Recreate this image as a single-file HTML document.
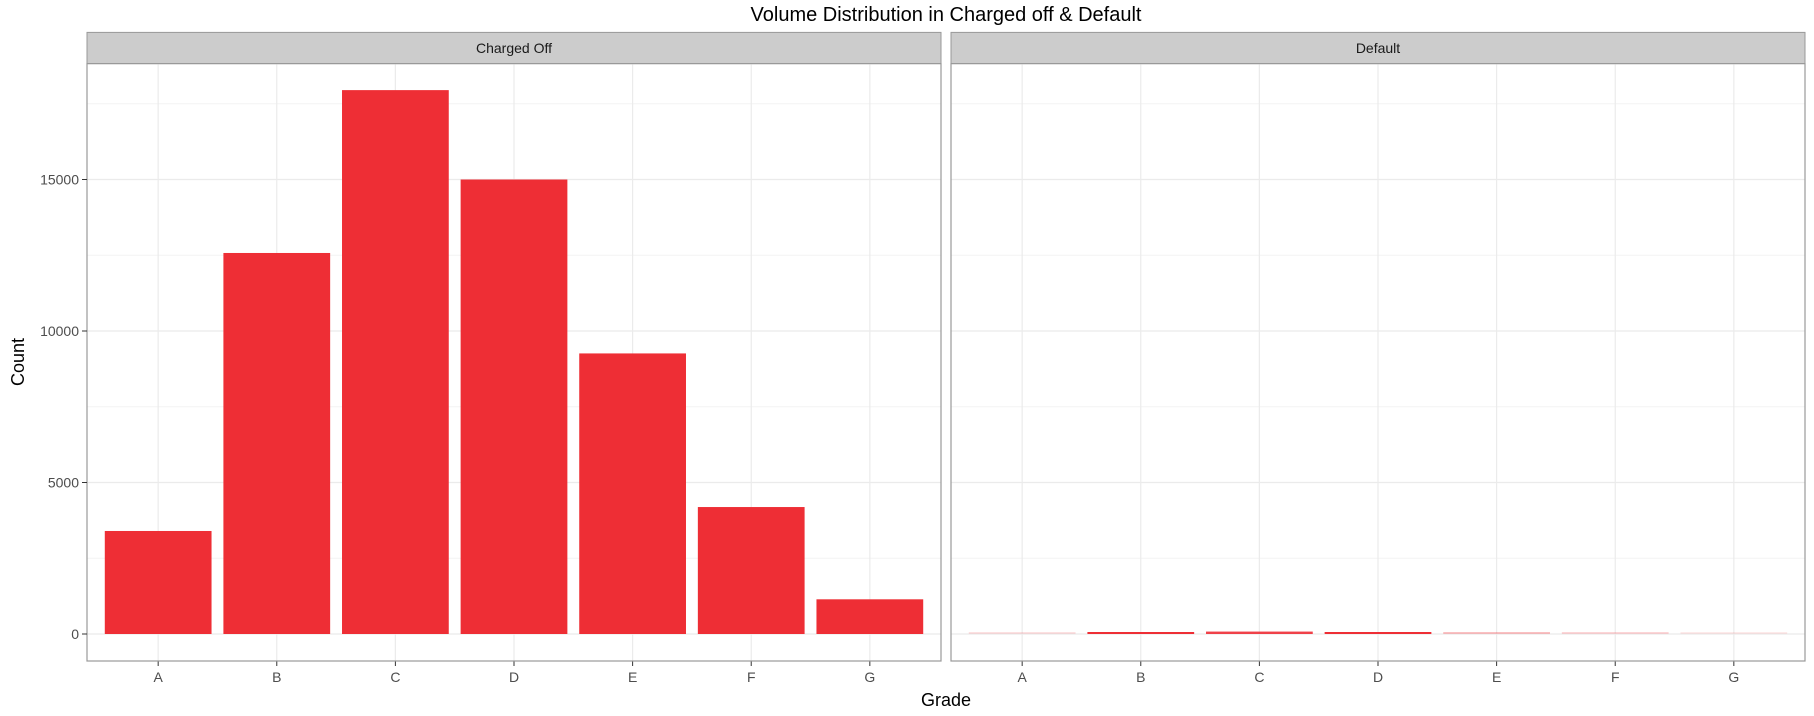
<!DOCTYPE html>
<html><head><meta charset="utf-8"><style>
html,body{margin:0;padding:0;background:#fff;}
svg{display:block;font-family:"Liberation Sans",sans-serif;}
</style></head><body>
<svg id="chart" width="1814" height="716" viewBox="0 0 1814 716" xmlns="http://www.w3.org/2000/svg">
<text x="946" y="21" font-size="20" text-anchor="middle" fill="#000">Volume Distribution in Charged off &amp; Default</text>
<text transform="translate(24,362) rotate(-90)" font-size="18" text-anchor="middle">Count</text>
<text x="946" y="706" font-size="18" text-anchor="middle">Grade</text>
<g id="plot"></g>
</svg>
<script>
const categories = ['A','B','C','D','E','F','G'];
const panels = ['Charged Off','Default'];
const chargedOff = [3400,12575,17950,15000,9260,4190,1145];
const defaultVals = [5,40,80,50,20,10,5];
const defaultAlpha = [0.15,1,0.9,1,0.3,0.2,0.1];
const yTicks = [0,5000,10000,15000];
const yMinorTicks = [2500,7500,12500,17500];

const NS='http://www.w3.org/2000/svg';
const g=document.getElementById('plot');
const panelX=[87,951], panelW=854, panelTop=63.6, panelBottom=661, stripTop=32.4;
const zeroY=634, pxPer=151.5/5000;
function y(v){return zeroY-v*pxPer;}
const step=panelW/(categories.length-1+1.2);
function x(p,i){return panelX[p]+step*(0.6+i);}
function el(t,a){const e=document.createElementNS(NS,t);for(const k in a)e.setAttribute(k,a[k]);g.appendChild(e);return e;}

panels.forEach((name,p)=>{
  const x0=panelX[p];
  const s=el('rect',{x:x0,y:stripTop,width:panelW,height:panelTop-stripTop,fill:'#cccccc',stroke:'#999',"stroke-width":1});
  
  
  const st=el('text',{x:x0+panelW/2,y:(stripTop+panelTop)/2+5,"font-size":14,"text-anchor":"middle",fill:'#1a1a1a'});
  st.textContent=name;
  
  
  yMinorTicks.forEach(v=>{const l=el('line',{x1:x0,x2:x0+panelW,y1:y(v),y2:y(v),stroke:'#f3f3f3',"stroke-width":1});
    
    });
  yTicks.forEach(v=>{const l=el('line',{x1:x0,x2:x0+panelW,y1:y(v),y2:y(v),stroke:'#ebebeb',"stroke-width":1.2});
    
    });
  categories.forEach((c,i)=>{
    const cx=x(p,i);
    const l=el('line',{x1:cx,x2:cx,y1:panelTop,y2:panelBottom,stroke:'#ebebeb',"stroke-width":1.2});
    
    
    const v=p===0?chargedOff[i]:defaultVals[i];
    const bw=step*0.9;
    const h=Math.max(zeroY-y(v),p===0?0:2);
    const r=el('rect',{x:cx-bw/2,y:zeroY-h,width:bw,height:h,fill:'#ee2e35',"fill-opacity":p===0?1:defaultAlpha[i]});
    
    
    const t=el('line',{x1:cx,x2:cx,y1:panelBottom,y2:panelBottom+5,stroke:'#333',"stroke-width":1});
    
    
    const tl=el('text',{x:cx,y:panelBottom+21,"font-size":14,"text-anchor":"middle",fill:'#4d4d4d'});
    tl.textContent=c;
    
    
  });
  const b=el('rect',{x:x0,y:panelTop,width:panelW,height:panelBottom-panelTop,fill:'none',stroke:'#999',"stroke-width":1.2});
  
  
});
yTicks.forEach(v=>{
  const t=el('line',{x1:panelX[0]-5,x2:panelX[0],y1:y(v),y2:y(v),stroke:'#333',"stroke-width":1});
  
  
  const tl=el('text',{x:panelX[0]-8,y:y(v)+5,"font-size":14,"text-anchor":"end",fill:'#4d4d4d'});
  tl.textContent=String(v);
  
  
});
</script>
</body></html>
